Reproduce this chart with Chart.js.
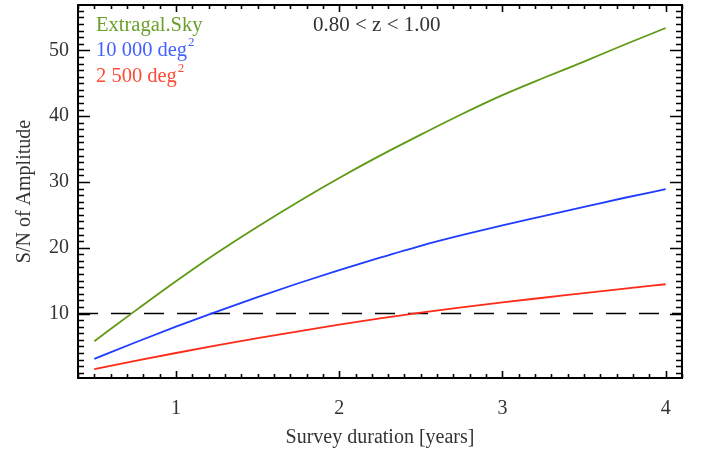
<!DOCTYPE html>
<html>
<head>
<meta charset="utf-8">
<script src="https://cdn.jsdelivr.net/npm/chart.js@4/dist/chart.umd.min.js"></script>
<style>
  html, body { margin: 0; padding: 0; background: #fff; }
  #wrap { width: 706px; height: 451px; position: relative; }
</style>
</head>
<body>
<div id="wrap"><canvas id="chart"></canvas></div>
<script>
// survey duration in years
const years = [0.5, 0.75, 1, 1.25, 1.5, 1.75, 2, 2.25, 2.5, 2.75, 3, 3.25, 3.5, 3.75, 4];
// S/N of amplitude for each survey area
const snExtragal = [5.8, 10.4, 14.9, 19.2, 23.2, 27.0, 30.6, 34.0, 37.2, 40.3, 43.2, 45.8, 48.3, 50.9, 53.4];
const sn10000 = [3.1, 5.6, 8.0, 10.3, 12.5, 14.6, 16.6, 18.5, 20.3, 21.9, 23.4, 24.8, 26.2, 27.6, 28.9];
const sn2500 = [1.55, 2.8, 4.0, 5.15, 6.25, 7.3, 8.3, 9.25, 10.15, 10.95, 11.7, 12.4, 13.1, 13.8, 14.45];
const threshold = 10;

const xTicks = [1, 2, 3, 4];
const yTicks = [10, 20, 30, 40, 50];
const xRange = [0.4, 4.1];
const yRange = [0.2, 56.9];

const GREEN = '#5e9a14';
const BLUE = '#1f3cff';
const RED = '#ff2a17';
const SERIF = '"Liberation Serif", "DejaVu Serif", serif';

const toPts = (ys) => years.map((x, i) => ({ x: x, y: ys[i] }));

// IDL-style frame with inward ticks on all four sides
const framePlugin = {
  id: 'frame',
  afterDatasetsDraw(chart) {
    const { ctx, chartArea: a, scales: { x, y } } = chart;
    ctx.save();
    ctx.strokeStyle = '#000';
    ctx.lineWidth = 1.6;
    // minor + major x ticks
    for (let i = Math.ceil(xRange[0] * 10); i <= Math.floor(xRange[1] * 10); i++) {
      const px = Math.round(x.getPixelForValue(i / 10)) + 0.5;
      const len = i % 10 === 0 ? 7 : 4;
      ctx.beginPath();
      ctx.moveTo(px, a.bottom); ctx.lineTo(px, a.bottom - len);
      ctx.moveTo(px, a.top); ctx.lineTo(px, a.top + len);
      ctx.stroke();
    }
    for (let v = Math.ceil(yRange[0]); v <= Math.floor(yRange[1]); v++) {
      const py = Math.round(y.getPixelForValue(v)) + 0.5;
      const len = v % 10 === 0 ? 12 : 6;
      ctx.beginPath();
      ctx.moveTo(a.left, py); ctx.lineTo(a.left + len, py);
      ctx.moveTo(a.right, py); ctx.lineTo(a.right - len, py);
      ctx.stroke();
    }
    ctx.lineWidth = 2;
    ctx.strokeRect(a.left, a.top, a.right - a.left, a.bottom - a.top);

    // legend + redshift label
    ctx.textBaseline = 'alphabetic';
    const lx = a.left + 18;
    ctx.font = '20.5px ' + SERIF;
    ctx.fillStyle = '#6a9f2a';
    ctx.fillText('Extragal.Sky', lx, 31);
    const sup = (txt, col, yb) => {
      ctx.font = '20.5px ' + SERIF;
      ctx.fillStyle = col;
      ctx.fillText(txt, lx, yb);
      const w = ctx.measureText(txt).width;
      ctx.font = '13px ' + SERIF;
      ctx.fillText('2', lx + w + 1, yb - 10);
    };
    sup('10 000 deg', '#4461ff', 56);
    sup('2 500 deg', '#ff4a36', 82);
    ctx.font = '21px ' + SERIF;
    ctx.fillStyle = '#333';
    ctx.fillText('0.80 < z < 1.00', 313, 31);
    ctx.restore();
  }
};

const line = (data, color) => ({
  data: toPts(data),
  borderColor: color,
  borderWidth: 1.8,
  pointRadius: 0,
  cubicInterpolationMode: 'monotone',
  fill: false
});

new Chart(document.getElementById('chart'), {
  type: 'line',
  data: {
    datasets: [
      line(snExtragal, GREEN),
      line(sn10000, BLUE),
      line(sn2500, RED),
      {
        data: [{ x: xRange[0], y: threshold }, { x: xRange[1], y: threshold }],
        borderColor: '#000',
        borderWidth: 1.6,
        borderDash: [20, 13],
        pointRadius: 0,
        fill: false
      }
    ]
  },
  options: {
    responsive: true,
    maintainAspectRatio: false,
    animation: false,
    layout: { padding: { top: 5, right: 24, left: 0, bottom: 0 } },
    plugins: { legend: { display: false }, tooltip: { enabled: false } },
    scales: {
      x: {
        type: 'linear',
        min: xRange[0],
        max: xRange[1],
        afterBuildTicks: (s) => { s.ticks = xTicks.map(v => ({ value: v })); },
        afterFit: (s) => { s.height = 73; s.paddingLeft = 0; s.paddingRight = 0; },
        grid: { display: false, drawTicks: false },
        border: { display: false },
        ticks: { color: '#333', font: { family: SERIF, size: 20 }, padding: 19, maxRotation: 0 },
        title: {
          display: true, text: 'Survey duration [years]', color: '#333',
          font: { family: SERIF, size: 20 }, padding: { top: 0, bottom: 1 }
        }
      },
      y: {
        type: 'linear',
        min: yRange[0],
        max: yRange[1],
        afterBuildTicks: (s) => { s.ticks = yTicks.map(v => ({ value: v })); },
        afterFit: (s) => { s.width = 78; s.paddingTop = 0; s.paddingBottom = 0; },
        grid: { display: false, drawTicks: false },
        border: { display: false },
        ticks: { color: '#333', font: { family: SERIF, size: 20 }, padding: 9 },
        title: {
          display: true, text: 'S/N of Amplitude', color: '#333',
          font: { family: SERIF, size: 20 }, padding: { top: 13, bottom: 0 }
        }
      }
    }
  },
  plugins: [framePlugin]
});
</script>
</body>
</html>
